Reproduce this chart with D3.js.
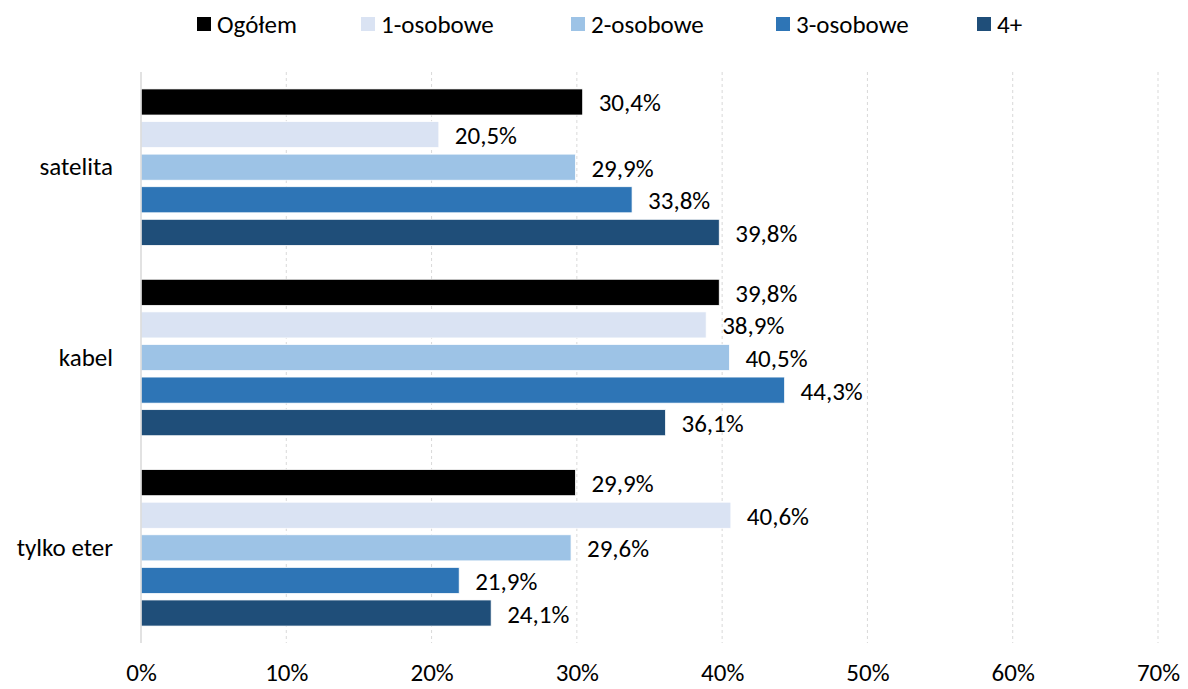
<!DOCTYPE html>
<html>
<head>
<meta charset="utf-8">
<script src="https://cdn.jsdelivr.net/npm/d3@7"></script>
<style>
  body { margin: 0; background: #fff; }
  svg text { font-family: Carlito, Lato, "Liberation Sans", sans-serif; fill: #000; }
</style>
</head>
<body>
<div id="chart"></div>
<script>
var categories = ["satelita", "kabel", "tylko eter"];
var seriesNames = ["Ogółem", "1-osobowe", "2-osobowe", "3-osobowe", "4+"];
var seriesColors = ["#000000", "#DAE3F3", "#9DC3E6", "#2E75B6", "#1F4E79"];
// values per series, in category order
var ogolem = [30.4, 39.8, 29.9];
var os1 = [20.5, 38.9, 40.6];
var os2 = [29.9, 40.5, 29.6];
var os3 = [33.8, 44.3, 21.9];
var os4 = [39.8, 36.1, 24.1];
var xTicks = [0, 10, 20, 30, 40, 50, 60, 70];

var seriesValues = [ogolem, os1, os2, os3, os4];

var width = 1188, height = 689;
var margin = { top: 72, right: 30, bottom: 46, left: 141 };
var plotW = 1158 - margin.left;
var plotH = 643 - margin.top;

var svg = d3.select("#chart").append("svg")
  .attr("width", width)
  .attr("height", height);

var g = svg.append("g")
  .attr("transform", "translate(" + margin.left + "," + margin.top + ")");

var x = d3.scaleLinear().domain([0, 70]).range([0, plotW]);
var y0 = d3.scaleBand().domain(categories).range([0, plotH]).padding(0);
var y1 = d3.scaleBand().domain(seriesNames).range([0, y0.bandwidth()])
  .paddingInner(0.2).paddingOuter(0.52);
var color = d3.scaleOrdinal().domain(seriesNames).range(seriesColors);

// gridlines
g.append("g")
  .selectAll("line")
  .data(xTicks.slice(1))
  .enter().append("line")
  .attr("x1", function(d) { return x(d); })
  .attr("x2", function(d) { return x(d); })
  .attr("y1", 0)
  .attr("y2", plotH)
  .attr("stroke", "#d9d9d9")
  .attr("stroke-width", 1)
  .attr("stroke-dasharray", "3,3");

// x axis labels
var xAxis = d3.axisBottom(x)
  .tickValues(xTicks)
  .tickSize(0)
  .tickPadding(20)
  .tickFormat(function(d) { return d + "%"; });

var xg = g.append("g")
  .attr("transform", "translate(0," + plotH + ")")
  .call(xAxis);
xg.select(".domain").remove();
xg.selectAll("text").style("font-size", "25px");

// bars
var data = [];
categories.forEach(function(c, ci) {
  seriesNames.forEach(function(s, si) {
    data.push({ cat: c, name: s, value: seriesValues[si][ci] });
  });
});

var groups = g.selectAll(".bar")
  .data(data)
  .enter().append("g")
  .attr("class", "bar")
  .attr("transform", function(d) {
    return "translate(0," + (y0(d.cat) + y1(d.name)) + ")";
  });

groups.append("rect")
  .attr("x", 0)
  .attr("width", function(d) { return x(d.value); })
  .attr("height", y1.bandwidth())
  .attr("fill", function(d) { return color(d.name); })
  .attr("stroke", "#ffffff")
  .attr("stroke-width", 0.75);

groups.append("text")
  .attr("x", function(d) { return x(d.value) + 16; })
  .attr("y", y1.bandwidth() / 2)
  .attr("dy", "0.38em")
  .style("font-size", "25px")
  .text(function(d) { return d.value.toFixed(1).replace(".", ",") + "%"; });

// y axis line
g.append("line")
  .attr("x1", 0).attr("x2", 0)
  .attr("y1", 0).attr("y2", plotH)
  .attr("stroke", "#d9d9d9")
  .attr("stroke-width", 1.5);

// category labels
var yAxis = d3.axisLeft(y0).tickSize(0).tickPadding(28);
var yg = g.append("g").call(yAxis);
yg.select(".domain").remove();
yg.selectAll("text").style("font-size", "25px");

// legend
var legendX = [197, 361, 571, 776, 977];
var legend = svg.append("g").selectAll("g")
  .data(seriesNames)
  .enter().append("g")
  .attr("transform", function(d, i) { return "translate(" + legendX[i] + ",17)"; });

legend.append("rect")
  .attr("width", 14)
  .attr("height", 14)
  .attr("fill", function(d) { return color(d); });

legend.append("text")
  .attr("x", 20)
  .attr("y", 7)
  .attr("dy", "0.36em")
  .style("font-size", "25px")
  .text(function(d) { return d; });
</script>
</body>
</html>
